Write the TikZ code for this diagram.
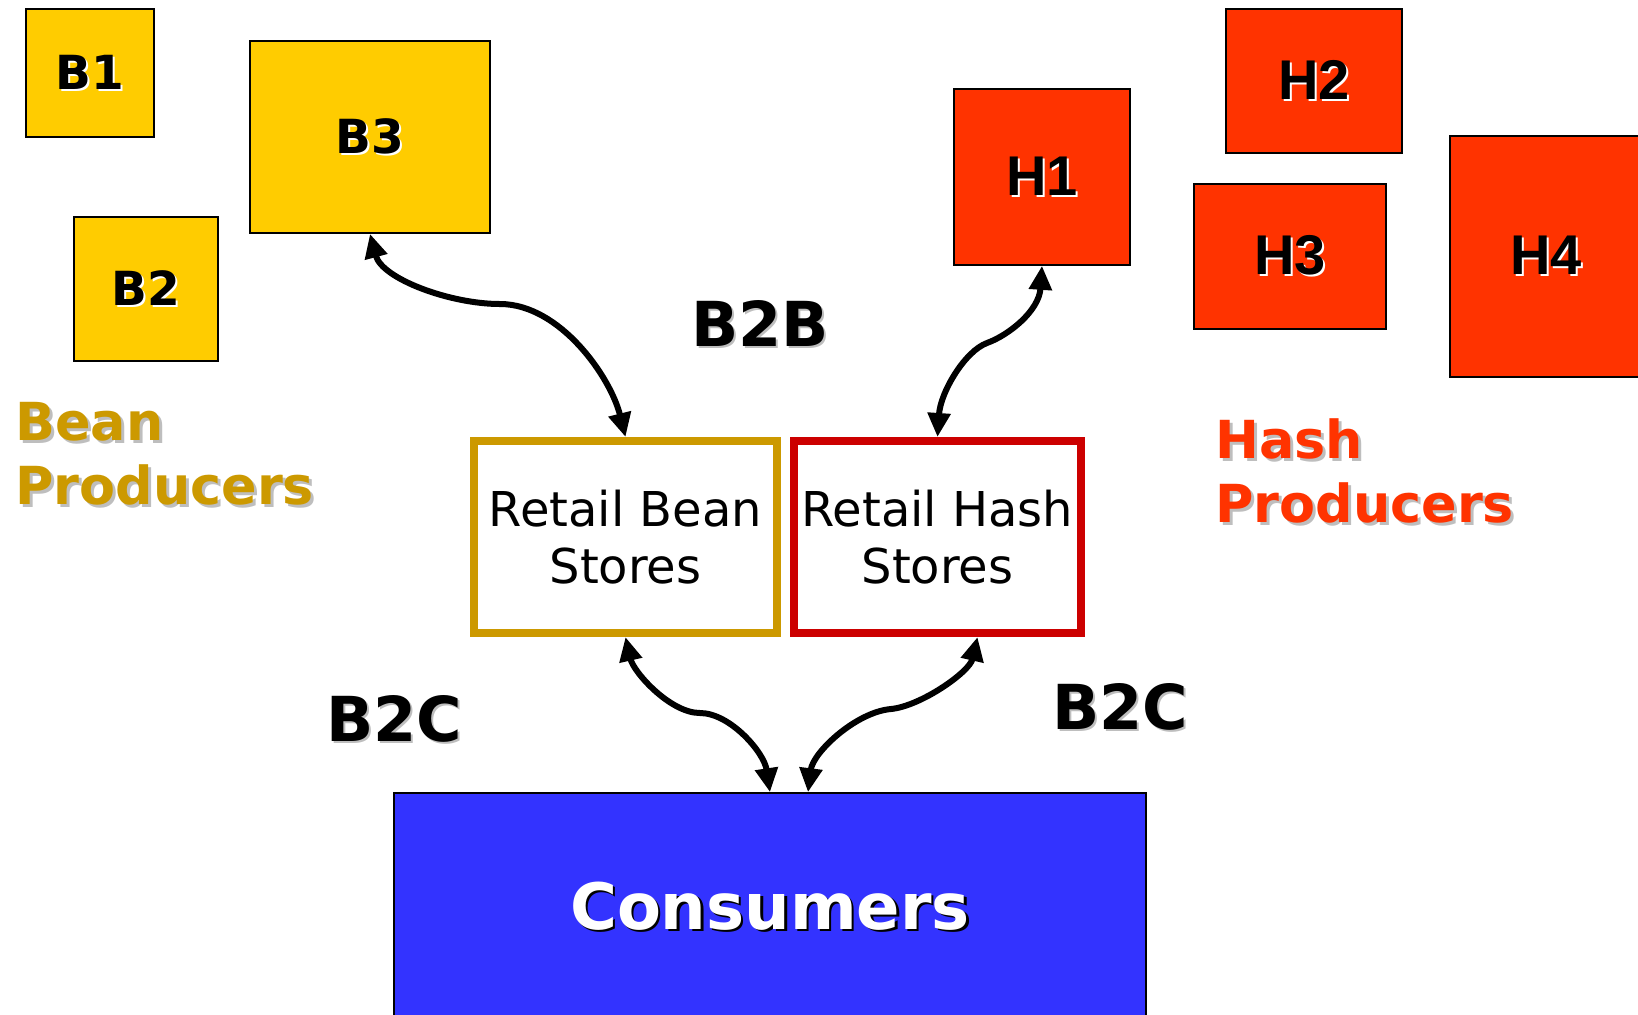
\documentclass[tikz,border=0pt]{standalone}
\usepackage{fontspec}
\setmainfont{DejaVu Sans}
\newfontfamily\arialfont{Liberation Sans}
\usepackage{xcolor}
\usepackage{tikz}
\usetikzlibrary{shapes,arrows.meta,positioning}
\definecolor{beanyellow}{RGB}{255, 204, 0}
\definecolor{beangold}{RGB}{204, 153, 0}
\definecolor{hashred}{RGB}{255, 51, 0}
\definecolor{storered}{RGB}{204, 0, 0}
\definecolor{consblue}{RGB}{51, 51, 255}
\definecolor{shadowgray}{RGB}{190, 190, 190}
\newcommand{\shtext}[3][1pt]{\leavevmode\rlap{\kern#1\raisebox{-#1}{\textcolor{#2}{#3}}}#3}

\begin{document}
\begin{tikzpicture}[x=0.5pt, y=-0.5pt,
    bprod/.style={draw=black, line width=0.8pt, fill=beanyellow, inner sep=0pt, font=\bfseries\fontsize{23.5pt}{28pt}\selectfont},
    hprod/.style={draw=black, line width=0.8pt, fill=hashred, inner sep=0pt, font=\arialfont\bfseries\fontsize{28pt}{32pt}\selectfont},
    store/.style={line width=4pt, fill=white, inner sep=0pt, align=center, font=\fontsize{24pt}{28.5pt}\selectfont},
    tag/.style={anchor=base, inner sep=0pt, font=\bfseries\fontsize{31pt}{36pt}\selectfont},
    group/.style={anchor=north west, inner sep=0pt, align=left, font=\bfseries\fontsize{26.2pt}{32pt}\selectfont},
    link/.style={{Triangle[length=12pt,width=11pt]}-{Triangle[length=12pt,width=11pt]}, line width=3pt}]
\useasboundingbox (0,0) rectangle (1638,1014);

% Bean producers
\node[bprod, minimum width=64pt, minimum height=64pt] (b1) at (90,73) {\shtext{white}{B1}};
\node[bprod, minimum width=120pt, minimum height=96pt] (b3) at (370,137) {\shtext{white}{B3}};
\node[bprod, minimum width=72pt, minimum height=72pt] (b2) at (146,289) {\shtext{white}{B2}};
\node[group, text=beangold] (beanlbl) at (15,402) {\shtext[1.5pt]{shadowgray}{Bean}\\\shtext[1.5pt]{shadowgray}{Producers}};

% Hash producers
\node[hprod, minimum width=88pt, minimum height=88pt] (h1) at (1042,177) {\shtext{white}{H1}};
\node[hprod, minimum width=88pt, minimum height=72pt] (h2) at (1314,81) {\shtext{white}{H2}};
\node[hprod, minimum width=96pt, minimum height=72.5pt] (h3) at (1290,256.5) {\shtext{white}{H3}};
\node[hprod, minimum width=96pt, minimum height=120.5pt] (h4) at (1546,256.5) {\shtext{white}{H4}};
\node[group, text=hashred] (hashlbl) at (1215,418) {\shtext[1.5pt]{shadowgray}{Hash}\\\shtext[1.5pt]{shadowgray}{Producers}};

% Retail stores
\node[store, draw=beangold, minimum width=151.5pt, minimum height=96pt] (rbean) at (625.5,537) {Retail Bean\\Stores};
\node[store, draw=storered, minimum width=143.5pt, minimum height=96pt] (rhash) at (937.5,537) {Retail Hash\\Stores};

% Consumers
\node[draw=black, line width=0.8pt, fill=consblue, inner sep=0pt, minimum width=376pt, minimum height=114pt,
    text=white, font=\bfseries\fontsize{32pt}{36pt}\selectfont] (cons) at (770,907) {\shtext[1.2pt]{black}{Consumers}};

% Relation labels
\node[tag] (b2b) at (760,346) {\shtext{shadowgray}{B2B}};
\node[tag] (b2cl) at (394,741) {\shtext{shadowgray}{B2C}};
\node[tag] (b2cr) at (1120,729) {\shtext{shadowgray}{B2C}};

% Curved links
\coordinate (m1) at (500,304);
\coordinate (m2) at (987,343);
\coordinate (m3) at (700,713);
\coordinate (m4) at (891,709);
\coordinate (t4) at ([xshift=20pt]rhash.south);
\coordinate (c4) at ([xshift=19pt]cons.north);
\draw[link] (b3.south) .. controls +(12,45) and +(-50,0) .. (m1) .. controls +(60,0) and +(-15,-60) .. (rbean.north);
\draw[link] (h1.south) .. controls +(-3,45) and +(22,-8) .. (m2) .. controls +(-22,8) and +(3,-45) .. (rhash.north);
\draw[link] (rbean.south) .. controls +(8,35) and +(-30,0) .. (m3) .. controls +(30,0) and +(-6,-40) .. (cons.north);
\draw[link] (t4) .. controls +(-8,35) and +(30,-3) .. (m4) .. controls +(-35,3) and +(5,-40) .. (c4);
\end{tikzpicture}
\end{document}
